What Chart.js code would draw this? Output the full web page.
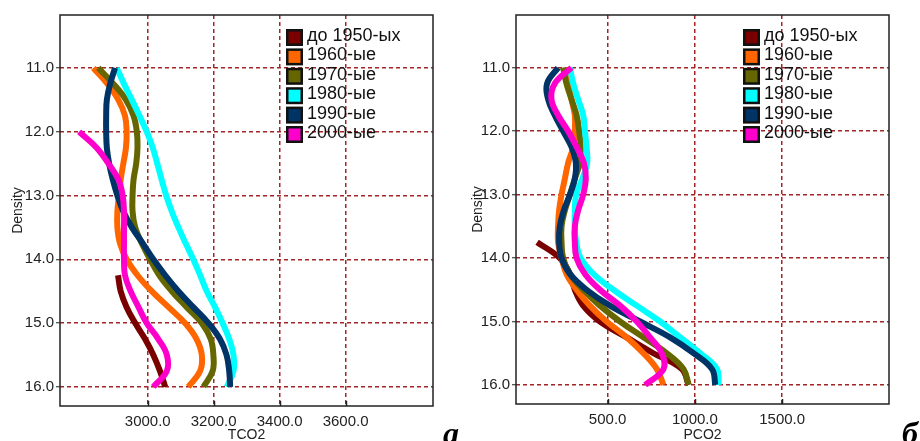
<!DOCTYPE html>
<html>
<head>
<meta charset="utf-8">
<script src="https://cdn.jsdelivr.net/npm/chart.js@4.4.1/dist/chart.umd.min.js"></script>
<style>
    body { margin: 0; background: #fff; width: 920px; height: 441px; overflow: hidden; position: relative; }
    .panel { position: absolute; top: 0; width: 460px; height: 441px; }
    .tag { position: absolute; font: italic bold 32px "Liberation Serif", "DejaVu Serif", serif; color: #000; line-height: 36px; }
</style>
</head>
<body>
<div class="panel" style="left:0"><canvas id="chartA" width="460" height="441"></canvas></div>
<div class="panel" style="left:460px"><canvas id="chartB" width="460" height="441"></canvas></div>
<div class="tag" style="left:443px;top:415px">а</div>
<div class="tag" style="left:902px;top:415px">б</div>

<script>
// Density levels (shared vertical axis), 11.0 .. 16.0 every 0.25
const density = [11.0, 11.25, 11.5, 11.75, 12.0, 12.25, 12.5, 12.75, 13.0, 13.25, 13.5,
                 13.75, 14.0, 14.25, 14.5, 14.75, 15.0, 15.25, 15.5, 15.75, 16.0];

const decades = ['до 1950-ых', '1960-ые', '1970-ые', '1980-ые', '1990-ые', '2000-ые'];
const decadeColors = ['#7a0000', '#ff6600', '#666600', '#00ffff', '#003366', '#ff00cc'];

const yTicks = [11, 12, 13, 14, 15, 16];

// panel a: TCO2
const tcoTicks = [3000, 3200, 3400, 3600];
const tco2_1950 = [null, null, null, null, null, null, null, null, null, null, null, null, null,
                   2910, 2918, 2936, 2962, 2992, 3017, 3037, 3053];
const tco2_1960 = [2835, 2878, 2911, 2931, 2936, 2934, 2926, 2918, 2913, 2908, 2908,
                   2916, 2936, 2969, 3012, 3063, 3113, 3148, 3164, 3159, 3123];
const tco2_1970 = [2850, 2896, 2934, 2957, 2967, 2969, 2965, 2957, 2954, 2954, 2962,
                   2982, 3007, 3035, 3073, 3118, 3164, 3191, 3199, 3197, 3169];
const tco2_1980 = [2906, 2928, 2952, 2975, 2997, 3015, 3029, 3042, 3056, 3073, 3093,
                   3115, 3138, 3159, 3179, 3204, 3227, 3247, 3260, 3260, 3240];
const tco2_1990 = [2901, 2886, 2876, 2874, 2874, 2876, 2883, 2894, 2908, 2926, 2952,
                   2985, 3017, 3053, 3093, 3138, 3184, 3219, 3239, 3247, 3250];
const tco2_2000 = [null, null, null, null, 2792, 2845, 2881, 2911, 2924, 2928, 2928,
                   2928, 2928, 2931, 2948, 2972, 2997, 3032, 3058, 3058, 3017];

// panel б: PCO2
const pcoTicks = [500, 1000, 1500];
const pco2_1950 = [null, null, null, null, null, null, null, null, null, null, null,
                   96, 226, 284, 312, 360, 456, 609, 762, 925, 964];
const pco2_1960 = [255, 274, 293, 312, 312, 303, 274, 255, 236, 222, 216,
                   216, 236, 264, 322, 398, 494, 609, 705, 782, 820];
const pco2_1970 = [245, 264, 293, 322, 337, 345, 341, 312, 284, 255, 236,
                   236, 245, 284, 360, 456, 571, 705, 839, 935, 964];
const pco2_1980 = [284, 303, 331, 360, 370, 379, 383, 355, 320, 312, 312,
                   320, 345, 418, 533, 667, 801, 916, 1031, 1126, 1136];
const pco2_1990 = [216, 153, 159, 197, 245, 293, 318, 312, 284, 249, 226,
                   222, 236, 284, 379, 513, 686, 858, 992, 1098, 1117];
const pco2_2000 = [293, 197, 178, 216, 274, 322, 364, 375, 360, 331, 312,
                   312, 322, 370, 456, 571, 667, 743, 810, 820, 715];

const GRID = '#a32525';
const FONT = '"Liberation Sans", Arial, sans-serif';

// box around the plot + short inward ticks on the bottom axis
const framePlugin = {
    id: 'frame',
    afterDraw(chart) {
        const { ctx, chartArea: a, scales } = chart;
        ctx.save();
        ctx.setLineDash([]);
        ctx.strokeStyle = '#222';
        ctx.lineWidth = 1.5;
        ctx.strokeRect(a.left, a.top, a.right - a.left, a.bottom - a.top);
        scales.x.ticks.forEach(t => {
            const px = Math.round(scales.x.getPixelForValue(t.value)) + 0.5;
            ctx.beginPath();
            ctx.moveTo(px, a.bottom);
            ctx.lineTo(px, a.bottom - 5);
            ctx.stroke();
        });
        ctx.restore();
    }
};

// legend with framed colour squares, drawn inside the plot area
const boxLegendPlugin = {
    id: 'boxLegend',
    afterDraw(chart, args, opts) {
        const { ctx } = chart;
        ctx.save();
        ctx.font = '18px ' + FONT;
        ctx.textBaseline = 'middle';
        chart.data.datasets.forEach((ds, i) => {
            const cy = opts.y + i * 19.4;
            ctx.fillStyle = '#111';
            ctx.fillRect(opts.x, cy - 8, 17, 17);
            ctx.fillStyle = ds.borderColor;
            ctx.fillRect(opts.x + 2.5, cy - 5.5, 12, 12);
            ctx.fillStyle = '#111';
            ctx.fillText(ds.label, opts.x + 21, cy - 1);
        });
        ctx.restore();
    }
};

function buildDatasets(seriesList) {
    return seriesList.map((values, i) => ({
        label: decades[i],
        data: density.map((d, k) => values[k] == null ? null : { x: values[k], y: d }).filter(Boolean),
        borderColor: decadeColors[i],
        backgroundColor: decadeColors[i],
        borderWidth: 6,
        borderCapStyle: 'butt',
        pointRadius: 0,
        showLine: true,
        tension: 0.4,
        order: seriesList.length - i
    }));
}

function makeChart(id, xTitle, xMin, xMax, xTicks, seriesList, layout) {
    const ctx = document.getElementById(id).getContext('2d');
    const gridOpts = {
        color: () => GRID,
        lineWidth: 1.5,
        tickColor: '#222',
        tickWidth: 1
    };
    return new Chart(ctx, {
        type: 'scatter',
        data: { datasets: buildDatasets(seriesList) },
        options: {
            responsive: false,
            animation: false,
            layout: { padding: { top: 15, right: layout.padRight, left: 0, bottom: 0 } },
            plugins: {
                legend: { display: false },
                tooltip: { enabled: false },
                boxLegend: { x: layout.legendX, y: 37 }
            },
            scales: {
                x: {
                    type: 'linear',
                    min: xMin,
                    max: xMax,
                    afterBuildTicks: axis => { axis.ticks = xTicks.map(v => ({ value: v })); },
                    afterFit: s => { s.height = layout.xHeight; },
                    ticks: {
                        callback: v => v.toFixed(1),
                        color: '#222',
                        font: { family: FONT, size: 15 },
                        padding: 7,
                        maxRotation: 0
                    },
                    grid: Object.assign({}, gridOpts, { drawTicks: false }),
                    border: { display: false, dash: [4, 3] },
                    title: {
                        display: true,
                        text: xTitle,
                        color: '#222',
                        font: { family: FONT, size: 14, lineHeight: 0.9 },
                        padding: { top: 0, bottom: 0 }
                    }
                },
                y: {
                    type: 'linear',
                    reverse: true,
                    min: 10.17,
                    max: 16.3,
                    afterBuildTicks: axis => { axis.ticks = yTicks.map(v => ({ value: v })); },
                    afterFit: s => { s.width = layout.yWidth; },
                    ticks: {
                        callback: v => v.toFixed(1),
                        color: '#222',
                        font: { family: FONT, size: 15 },
                        padding: 2
                    },
                    grid: Object.assign({}, gridOpts, { tickLength: 4 }),
                    border: { display: false, dash: [4, 3] },
                    title: {
                        display: true,
                        text: 'Density',
                        color: '#222',
                        font: { family: FONT, size: 14 },
                        padding: { top: 10, bottom: 0 }
                    }
                }
            }
        },
        plugins: [framePlugin, boxLegendPlugin]
    });
}

makeChart('chartA', 'TCO2', 2734, 3865, tcoTicks,
    [tco2_1950, tco2_1960, tco2_1970, tco2_1980, tco2_1990, tco2_2000],
    { yWidth: 60, xHeight: 35, padRight: 27, legendX: 286 });

makeChart('chartB', 'PCO2', -25, 2112, pcoTicks,
    [pco2_1950, pco2_1960, pco2_1970, pco2_1980, pco2_1990, pco2_2000],
    { yWidth: 56, xHeight: 37, padRight: 31, legendX: 283 });
</script>
</body>
</html>
